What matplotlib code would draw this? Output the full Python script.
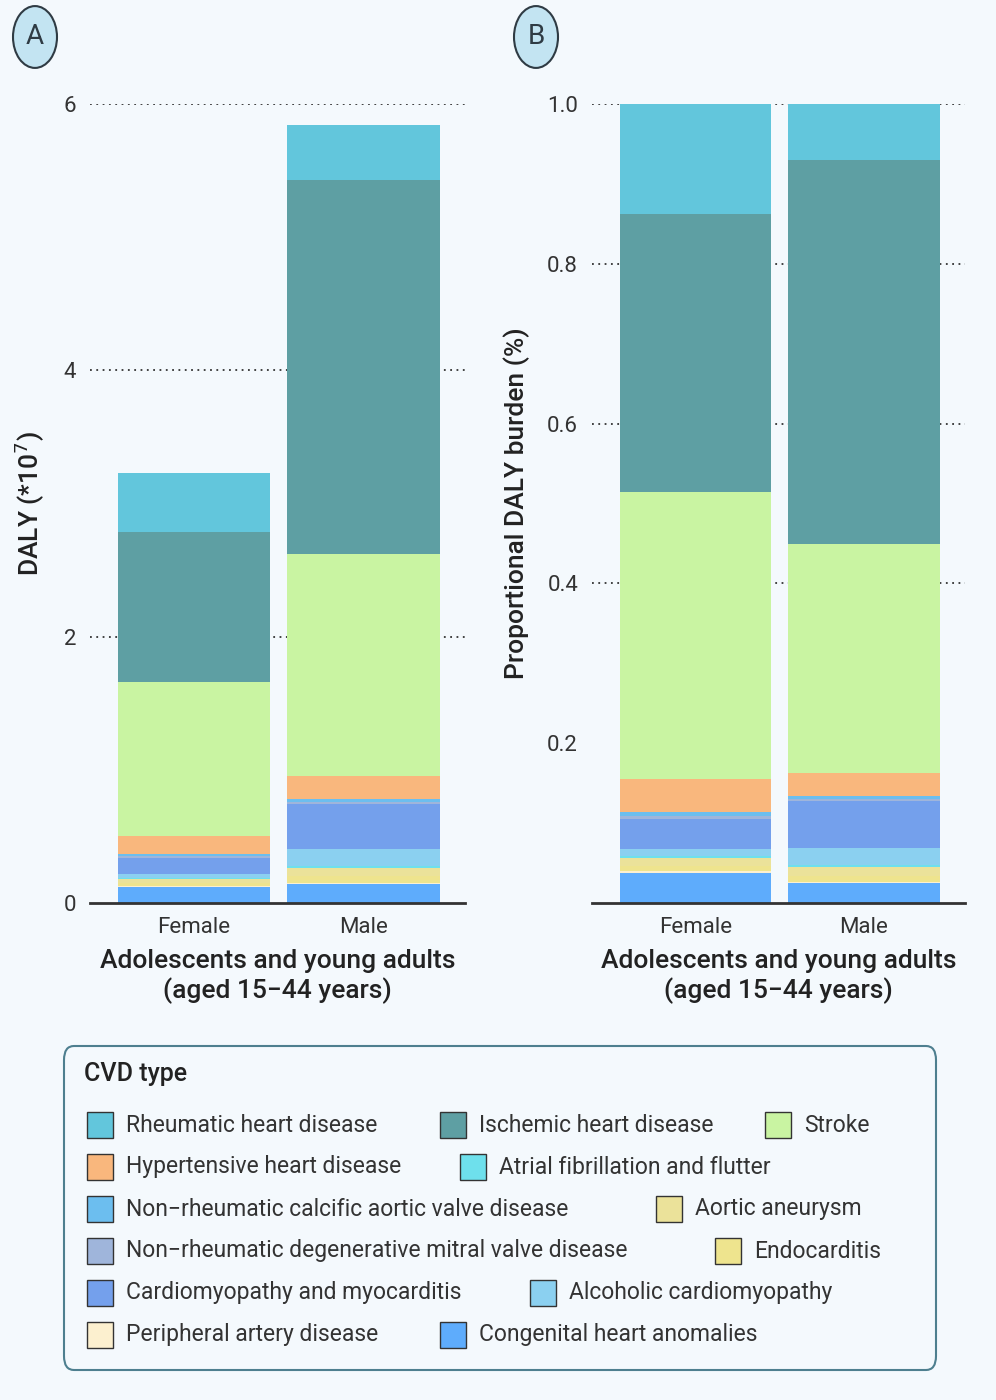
import matplotlib.pyplot as plt
from matplotlib.patches import FancyBboxPatch, Rectangle, Circle
import numpy as np

plt.rcParams['font.family'] = ['Roboto', 'DejaVu Sans']

# stack order bottom -> top
cvd_types = ["Congenital heart anomalies", "Peripheral artery disease", "Endocarditis",
             "Aortic aneurysm", "Atrial fibrillation and flutter", "Alcoholic cardiomyopathy",
             "Cardiomyopathy and myocarditis", "Non\u2212rheumatic degenerative mitral valve disease",
             "Non\u2212rheumatic calcific aortic valve disease", "Hypertensive heart disease",
             "Stroke", "Ischemic heart disease", "Rheumatic heart disease"]
colors = ["#5EACFC", "#FCF0CF", "#EEE48E", "#EBE29A", "#6EE0EC", "#8BD0F0", "#74A0EC",
          "#9FB5DB", "#6CBEEF", "#F9B77D", "#C9F4A2", "#5E9FA3", "#62C6DC"]
sexes = ["Female", "Male"]
# DALY (*10^7)
female = [0.123, 0.006, 0.019, 0.032, 0.010, 0.029, 0.120, 0.013, 0.016, 0.132, 1.160, 1.124, 0.446]
male = [0.146, 0.006, 0.047, 0.064, 0.018, 0.123, 0.339, 0.018, 0.023, 0.169, 1.670, 2.809, 0.409]

legend_rows = [
    [("Rheumatic heart disease", 87), ("Ischemic heart disease", 440), ("Stroke", 765)],
    [("Hypertensive heart disease", 87), ("Atrial fibrillation and flutter", 460)],
    [("Non\u2212rheumatic calcific aortic valve disease", 87), ("Aortic aneurysm", 656)],
    [("Non\u2212rheumatic degenerative mitral valve disease", 87), ("Endocarditis", 715)],
    [("Cardiomyopathy and myocarditis", 87), ("Alcoholic cardiomyopathy", 530)],
    [("Peripheral artery disease", 87), ("Congenital heart anomalies", 440)],
]

bg = "#F4F9FD"
W, H = 996, 1400
fig = plt.figure(figsize=(9.96, 14), dpi=100, facecolor=bg)

vals = np.array([female, male])
props = vals / vals.sum(axis=1, keepdims=True)


def panel(rect, data, yticks, ylim, ylabel, fmt):
    ax = fig.add_axes(rect)
    ax.set_facecolor(bg)
    x = np.arange(len(sexes))
    bottom = np.zeros(len(sexes))
    for i, c in enumerate(colors):
        ax.bar(x, data[:, i], 0.9, bottom=bottom, color=c, zorder=2)
        bottom += data[:, i]
    for t in yticks[1:]:
        ax.axhline(t, color="#333333", ls=(0, (1, 2.5)), lw=1.3, zorder=1)
    ax.set_xlim(-0.615, 1.6)
    ax.set_ylim(*ylim)
    ax.set_yticks(yticks)
    ax.set_yticklabels([fmt(t) for t in yticks], fontsize=16, color="#333333")
    ax.set_xticks(x)
    ax.set_xticklabels(sexes, fontsize=16, color="#333333")
    ax.tick_params(length=0, pad=10)
    for s in ["top", "right", "left"]:
        ax.spines[s].set_visible(False)
    ax.spines["bottom"].set_color("#333333")
    ax.spines["bottom"].set_linewidth(2)
    ax.spines["bottom"].set_zorder(3)
    ax.set_ylabel(ylabel, fontsize=19, fontweight="medium", color="#222222", labelpad=12)
    ax.set_xlabel("Adolescents and young adults\n(aged 15\u221244 years)", fontsize=19,
                  fontweight="medium", color="#222222", labelpad=8)
    return ax


panel([90 / W, 1 - 903 / H, 375 / W, 799 / H], vals, [0, 2, 4, 6], (0, 6),
      "DALY (*10$^7$)", lambda t: f"{t:g}")
panel([592 / W, 1 - 903 / H, 373 / W, 799 / H], props, [0.2, 0.4, 0.6, 0.8, 1.0], (0, 1),
      "Proportional DALY burden (%)", lambda t: f"{t:.1f}")

# panel letters
for lab, px in [("A", 35), ("B", 536)]:
    fig.patches.append(Circle((px / W, 1 - 37 / H), 22 / W, transform=fig.transFigure,
                              facecolor="#C3E4F2", edgecolor="#2f3b44", lw=1.5))
    fig.text(px / W, 1 - 37 / H, lab, ha="center", va="center", fontsize=20, color="#2f3b44")

# legend box
fig.patches.append(FancyBboxPatch((64 / W, 1 - 1370 / H), 872 / W, 324 / H,
                                  boxstyle="round,pad=0,rounding_size=0.01",
                                  transform=fig.transFigure, facecolor=bg,
                                  edgecolor="#4E7F8F", lw=1.5))
fig.text(84 / W, 1 - 1074 / H, "CVD type", fontsize=18, fontweight="medium",
         color="#222222", va="center")
cmap = dict(zip(cvd_types, colors))
for r, row in enumerate(legend_rows):
    yc = 1125 + 42 * r
    for name, px in row:
        fig.patches.append(Rectangle((px / W, 1 - (yc + 13) / H), 26 / W, 26 / H,
                                     transform=fig.transFigure, facecolor=cmap[name],
                                     edgecolor="#333333", lw=1))
        fig.text((px + 39) / W, 1 - yc / H, name, fontsize=16.5, color="#333333", va="center")

fig.savefig("out.png", dpi=100, facecolor=bg)
